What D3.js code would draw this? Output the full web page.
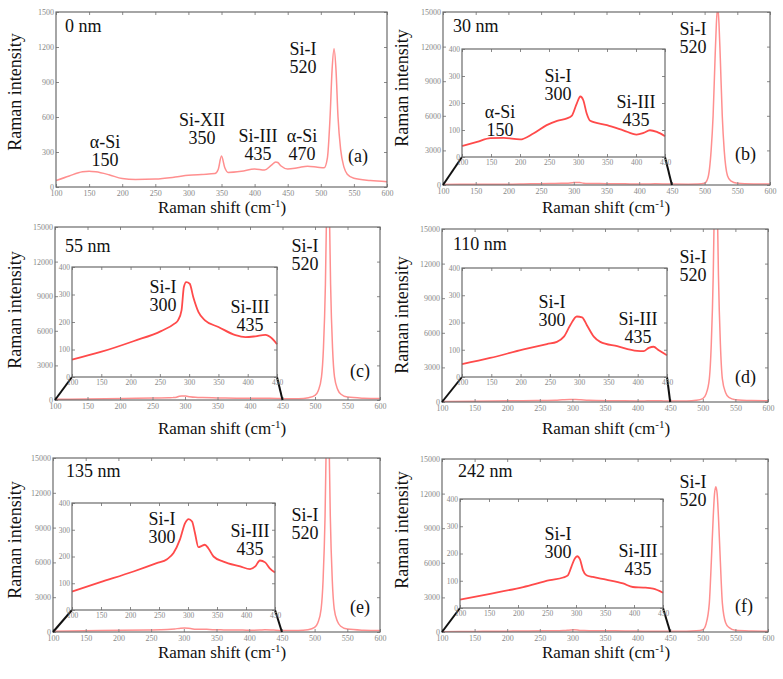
<!DOCTYPE html>
<html><head><meta charset="utf-8">
<script src="https://cdn.jsdelivr.net/npm/d3@7"></script>
</head><body style="margin:0;font-family:'Liberation Serif'">
<svg id="chart" width="783" height="679" style="font-family:'Liberation Serif'"></svg>
<script>
// ---------- data ----------
const shiftTicks = [100,150,200,250,300,350,400,450,500,550,600];
const insetShiftTicks = [100,150,200,250,300,350,400,450];
const intensityTicksA = [0,300,600,900,1200,1500];
const intensityTicks = [0,3000,6000,9000,12000,15000];
const insetIntensityTicks = [0,100,200,300,400];

const shiftA = [100,120,140,150,160,180,200,220,250,280,300,320,340,345,350,355,360,380,400,415,425,432,435,440,450,465,480,495,505,510,514,517,520,523,526,530,535,540,550,575,600];
const intensityA = [55,95,130,135,130,105,72,64,68,85,100,108,115,150,265,165,125,135,155,145,185,215,210,180,155,165,178,170,165,250,600,1000,1185,1000,600,320,170,110,75,55,45];

const shiftB = [100,126,149,172,200,223,246,264,281,289,298,304,309,315,321,350,378,401,413,424,436,450,475,490,500,505,510,513,516,518,520,522,524,527,530,535,540,550,575,600];
const intensityB = [41,56,70,71,65,87,118,134,143,152,199,224,211,161,134,118,99,83,89,99,93,77,70,80,150,600,3000,6000,11000,14000,15500,14000,11000,6000,3000,800,350,150,90,80];

const shiftC = [100,149,206,252,275,281,287,291,295,301,307,316,327,350,379,396,413,430,442,450,475,490,500,505,510,513,516,518,520,522,524,527,530,535,540,550,575,600];
const intensityC = [63,91,131,167,194,206,242,327,345,339,291,236,206,182,152,145,148,153,139,119,110,200,400,800,2000,4500,10000,17000,22000,17000,10000,4500,2000,900,500,250,150,120];

const shiftD = [100,148,205,245,262,274,285,296,305,313,325,336,365,399,410,419,427,436,450,475,490,500,505,510,513,516,518,520,522,524,527,530,535,540,550,575,600];
const intensityD = [47,70,101,121,129,148,191,222,219,191,148,129,113,96,95,107,111,98,80,90,150,300,700,2000,5000,11000,18000,22000,18000,11000,5000,2000,800,400,200,120,100];

const shiftE = [100,149,206,246,264,275,286,295,301,307,312,318,324,329,335,344,361,390,407,416,424,433,441,450,475,490,500,505,510,513,516,518,520,522,524,527,530,535,540,550,575,600];
const intensityE = [69,104,144,175,190,213,263,325,340,331,288,235,240,244,231,200,181,163,153,163,185,178,156,140,130,200,400,800,2000,4500,10000,17000,22000,17000,10000,4500,2000,900,500,250,150,120];

const shiftF = [100,152,209,255,278,286,292,298,302,307,312,318,329,352,381,398,416,433,450,475,490,500,505,510,513,516,518,520,522,524,527,530,535,540,550,575,600];
const intensityF = [31,52,77,102,112,120,151,182,190,178,139,120,114,104,90,77,75,71,56,60,100,200,700,2500,6000,10000,12000,12600,12000,10000,6000,2500,800,400,150,90,70];

const thicknesses = ["0 nm","30 nm","55 nm","110 nm","135 nm","242 nm"];
const panelLetters = ["(a)","(b)","(c)","(d)","(e)","(f)"];

// ---------- layout ----------
const panels = [
  {x:shiftA,y:intensityA,yMax:1500,yTicks:intensityTicksA,frame:[56,12,387,187],inset:null,
   labels:[[thicknesses[0],65,32,"start"],["α-Si|150",105,148],["Si-XII|350",202,126],["Si-III|435",258,142],["α-Si|470",302,142],["Si-I|520",303,55],[panelLetters[0],348,162,"start"]],
   ytitle:[21,92]},
  {x:shiftB,y:intensityB,yMax:15000,yTicks:intensityTicks,frame:[443,12,770,185],inset:[462,49,665,157],
   labels:[[thicknesses[1],453,32,"start"],["Si-I|520",693,35],["α-Si|150",500,118],["Si-I|300",558,82],["Si-III|435",636,108],[panelLetters[1],735,160,"start"]],
   ytitle:[408,88]},
  {x:shiftC,y:intensityC,yMax:15000,yTicks:intensityTicks,frame:[55,227,380,400],inset:[72,267,277,377],
   labels:[[thicknesses[2],65,252,"start"],["Si-I|520",305,252],["Si-I|300",163,293],["Si-III|435",250,313],[panelLetters[2],350,377,"start"]],
   ytitle:[21,310]},
  {x:shiftD,y:intensityD,yMax:15000,yTicks:intensityTicks,frame:[442,229,768,402],inset:[462,268,667,377],
   labels:[[thicknesses[3],453,250,"start"],["Si-I|520",693,263],["Si-I|300",552,308],["Si-III|435",638,325],[panelLetters[3],735,383,"start"]],
   ytitle:[408,315]},
  {x:shiftE,y:intensityE,yMax:15000,yTicks:intensityTicks,frame:[53,458,380,632],inset:[72,503,275,610],
   labels:[[thicknesses[4],66,477,"start"],["Si-I|520",305,521],["Si-I|300",162,525],["Si-III|435",250,537],[panelLetters[4],350,613,"start"]],
   ytitle:[21,540]},
  {x:shiftF,y:intensityF,yMax:15000,yTicks:intensityTicks,frame:[442,459,768,632],inset:[460,499,663,608],
   labels:[[thicknesses[5],458,477,"start"],["Si-I|520",693,488],["Si-I|300",558,540],["Si-III|435",638,557],[panelLetters[5],735,612,"start"]],
   ytitle:[408,530]}
];
const xTitles = [[222,213],[606,213],[222,434],[606,434],[222,658],[606,658]];

const FONT = '"Liberation Serif"';
const svg = d3.select("#chart");
const frameColor = "#6b6b6b", tickColor = "#8a8a8a";
const mainLine = "#ff8f8f", insetLine = "#ff4a4a";

function setFont(sel, size) {
  return sel.style("font-family", FONT).style("font-size", size + "px");
}

function drawAxes(g, xs, ys, xTicks, yTicks, fs) {
  const [x0,x1] = xs.range(), [y0,y1] = ys.range();
  const bottom = g.append("g").attr("transform",`translate(0,${y0})`)
    .call(d3.axisBottom(xs).tickValues(xTicks).tickSize(-3).tickPadding(3).tickFormat(d3.format("d")));
  const left = g.append("g").attr("transform",`translate(${x0},0)`)
    .call(d3.axisLeft(ys).tickValues(yTicks).tickSize(-3).tickPadding(2).tickFormat(d3.format("d")));
  const top = g.append("g").attr("transform",`translate(0,${y1})`)
    .call(d3.axisTop(xs).tickValues(xTicks).tickSize(-3).tickFormat(""));
  const right = g.append("g").attr("transform",`translate(${x1},0)`)
    .call(d3.axisRight(ys).tickValues(yTicks).tickSize(-3).tickFormat(""));
  [bottom,left,top,right].forEach(a=>{
    a.attr("font-family",null).attr("font-size",null);
    a.select(".domain").remove();
    a.selectAll("line").attr("stroke",tickColor);
    setFont(a.selectAll("text").attr("fill","#888"), fs);
  });
  g.append("rect").attr("x",x0).attr("y",y1).attr("width",x1-x0).attr("height",y0-y1)
    .attr("fill","none").attr("stroke",frameColor).attr("stroke-width",1.2);
}

panels.forEach((p,i)=>{
  const [l,t,r,b] = p.frame;
  const g = svg.append("g");
  const xs = d3.scaleLinear().domain([100,600]).range([l,r]);
  const ys = d3.scaleLinear().domain([0,p.yMax]).range([b,t]);
  const clipId = "clip"+i;
  svg.append("clipPath").attr("id",clipId).append("rect")
    .attr("x",l).attr("y",t).attr("width",r-l).attr("height",b-t);
  const pts = p.x.map((v,k)=>[v,p.y[k]]);
  const line = d3.line().x(d=>xs(d[0])).y(d=>ys(d[1])).curve(d3.curveMonotoneX);
  g.append("path").datum(pts).attr("d",line).attr("fill","none")
    .attr("stroke",mainLine).attr("stroke-width",1.5).attr("clip-path",`url(#${clipId})`);
  drawAxes(g, xs, ys, shiftTicks, p.yTicks, 8);

  if (p.inset) {
    const [il,it,ir,ib] = p.inset;
    g.append("line").attr("x1",il).attr("y1",ib).attr("x2",xs(100)).attr("y2",ys(0))
      .attr("stroke","#111").attr("stroke-width",2);
    g.append("line").attr("x1",ir).attr("y1",ib).attr("x2",xs(450)).attr("y2",ys(0))
      .attr("stroke","#111").attr("stroke-width",2);
    const gi = g.append("g");
    gi.append("rect").attr("x",il).attr("y",it).attr("width",ir-il).attr("height",ib-it).attr("fill","#fff");
    const xi = d3.scaleLinear().domain([100,450]).range([il,ir]);
    const yi = d3.scaleLinear().domain([0,400]).range([ib,it]);
    const ipts = pts.filter(d=>d[0]<=450);
    const iline = d3.line().x(d=>xi(d[0])).y(d=>yi(d[1])).curve(d3.curveMonotoneX);
    gi.append("path").datum(ipts).attr("d",iline).attr("fill","none")
      .attr("stroke",insetLine).attr("stroke-width",1.8);
    drawAxes(gi, xi, yi, insetShiftTicks, insetIntensityTicks, 7.5);
  }

  p.labels.forEach(lb=>{
    const [txt,x,y,anchor] = lb;
    txt.split("|").forEach((s,k)=>{
      setFont(svg.append("text").attr("x",x).attr("y",y+k*18).attr("text-anchor",anchor||"middle")
        .attr("fill","#111").text(s), 18);
    });
  });

  setFont(svg.append("text").attr("transform",`translate(${p.ytitle[0]},${p.ytitle[1]}) rotate(-90)`)
    .attr("text-anchor","middle").attr("fill","#111").text("Raman intensity"), 18);

  const xt = setFont(svg.append("text").attr("x",xTitles[i][0]).attr("y",xTitles[i][1])
    .attr("text-anchor","middle").attr("fill","#111"), 17);
  xt.append("tspan").text("Raman shift (cm");
  xt.append("tspan").attr("dy",-6).style("font-size","11px").text("-1");
  xt.append("tspan").attr("dy",6).text(")");
});
</script>
</body></html>
